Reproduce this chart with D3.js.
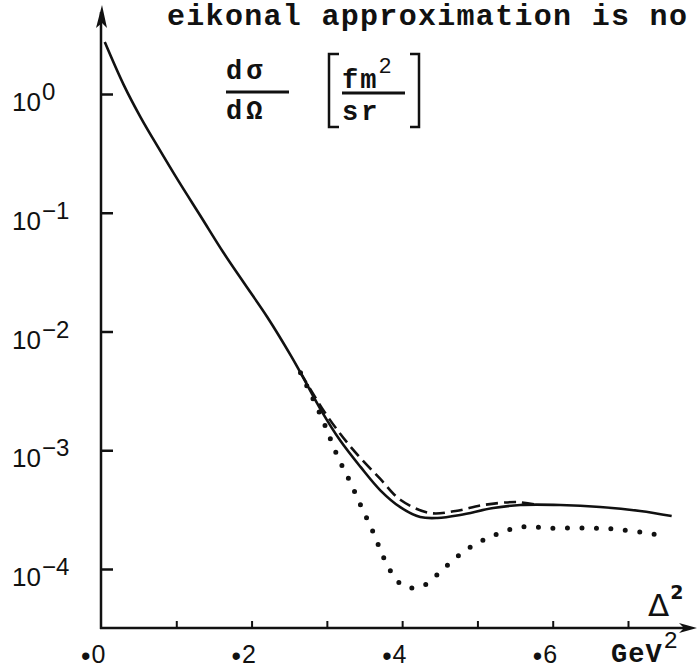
<!DOCTYPE html>
<html><head><meta charset="utf-8">
<script src="https://cdn.jsdelivr.net/npm/d3@7"></script>
<style>html,body{margin:0;padding:0;background:#fff;} svg{display:block;}</style>
</head><body><svg id="c" width="697" height="672"></svg>
<script>
// ---- data ----
const xSolid = [0.005, 0.03, 0.053, 0.076, 0.102, 0.133, 0.163, 0.19, 0.221, 0.252, 0.265, 0.292, 0.318, 0.345, 0.371, 0.398, 0.424, 0.447, 0.477, 0.521, 0.557, 0.61, 0.663, 0.716, 0.758];
const ySolid = [2.74, 1.2, 0.63, 0.355, 0.189, 0.0921, 0.0458, 0.0256, 0.0132, 0.0063, 0.0045, 0.00219, 0.0012, 0.00072, 0.00046, 0.00033, 0.000274, 0.000269, 0.000285, 0.000326, 0.000346, 0.000346, 0.000333, 0.000308, 0.000279];
const xDashed = [0.265, 0.298, 0.331, 0.371, 0.398, 0.437, 0.471, 0.508, 0.553, 0.575];
const yDashed = [0.0045, 0.00205, 0.00108, 0.000573, 0.000381, 0.000296, 0.000308, 0.000346, 0.000366, 0.00035];
const xDotted = [0.265, 0.294, 0.314, 0.331, 0.346, 0.362, 0.377, 0.395, 0.411, 0.43, 0.456, 0.485, 0.52, 0.558, 0.598, 0.642, 0.681, 0.725, 0.745];
const yDotted = [0.0045, 0.00183, 0.000895, 0.00054, 0.000333, 0.000201, 0.000119, 0.0000778, 0.0000692, 0.0000733, 0.000102, 0.000145, 0.00019, 0.000226, 0.000221, 0.000221, 0.000217, 0.000201, 0.00019];
const yTickValues = [1, 0.1, 0.01, 0.001, 0.0001];
const yTickBase = "10";
const yTickExponents = ["0", "\u22121", "\u22122", "\u22123", "\u22124"];
const xTickValues = [0.1, 0.2, 0.3, 0.4, 0.5, 0.6, 0.7];
const xLabelValues = [0, 0.2, 0.4, 0.6];
const xLabelDigits = ["0", "2", "4", "6"];
const titleText = "eikonal approximation is no";
const unitText = "GeV";
const unitExp = "2";
const axisName = "\u0394";
const axisExp = "2";
const ylabelNum = "d\u03c3";
const ylabelDen = "d\u03a9";
const unitNum = "fm";
const unitNumExp = "2";
const unitDen = "sr";

// ---- drawing ----
const svg = d3.select("#c");
const ink = "#111";
const sans = "Liberation Sans, Arial, sans-serif";
const mono = "Liberation Mono, Courier New, monospace";
const x = d3.scaleLinear().domain([0, 0.7]).range([101, 628]);
const y = d3.scaleLog().domain([1e-4, 1]).range([569, 94]);
const x0 = x(0), yBase = 628;

// axes lines
svg.append("line").attr("x1", x0).attr("y1", yBase + 1).attr("x2", x0).attr("y2", 12)
  .attr("stroke", ink).attr("stroke-width", 2.5);
svg.append("path").attr("d", `M${x0 + 1},5 L${x0 - 5},28 L${x0 + 1},23 L${x0 + 6},28 Z`).attr("fill", ink);
svg.append("line").attr("x1", x0 - 1).attr("y1", yBase).attr("x2", 688).attr("y2", yBase)
  .attr("stroke", ink).attr("stroke-width", 2.5);
svg.append("path").attr("d", `M697,${yBase} L679,${yBase - 5} L684,${yBase} L679,${yBase + 5} Z`).attr("fill", ink);

// ticks
const yAx = svg.append("g").attr("transform", `translate(${x0},0)`)
  .call(d3.axisRight(y).tickValues(yTickValues).tickSize(12).tickFormat(""));
yAx.select(".domain").remove();
yAx.selectAll("line").attr("stroke", ink).attr("stroke-width", 2.5);
const xAx = svg.append("g").attr("transform", `translate(0,${yBase})`)
  .call(d3.axisTop(x).tickValues(xTickValues).tickSize(7).tickFormat(""));
xAx.select(".domain").remove();
xAx.selectAll("line").attr("stroke", ink).attr("stroke-width", 2);

// y labels
yTickValues.forEach((v, i) => {
  const t = svg.append("text").attr("x", 12).attr("y", y(v) + 17)
    .attr("font-family", sans).attr("font-size", 26).attr("fill", ink);
  t.append("tspan").text(yTickBase);
  t.append("tspan").attr("dx", 1).attr("dy", -11).attr("font-size", 24).text(yTickExponents[i]);
});

// x labels
xLabelValues.forEach((v, i) => {
  const t = svg.append("text").attr("x", x(v) - 20).attr("y", 663)
    .attr("font-family", sans).attr("font-size", 25).attr("fill", ink);
  t.append("tspan").attr("dy", 2).attr("font-size", 27).text("\u2022");
  t.append("tspan").attr("dx", 1).attr("dy", -2).text(xLabelDigits[i]);
});

// GeV^2
const gt = svg.append("text").attr("x", 611).attr("y", 662)
  .attr("font-family", mono).attr("font-size", 27).attr("font-weight", "bold")
  .attr("letter-spacing", 1).attr("fill", ink);
gt.append("tspan").text(unitText);
gt.append("tspan").attr("dx", 1).attr("dy", -14).attr("font-size", 24).attr("font-weight", "normal").text(unitExp);

// Delta^2
const dt = svg.append("text").attr("x", 648).attr("y", 616)
  .attr("font-family", "DejaVu Sans, sans-serif").attr("font-size", 31).attr("fill", ink);
dt.append("tspan").text(axisName);
dt.append("tspan").attr("dx", 1).attr("dy", -17).attr("font-size", 19).attr("font-weight", "bold").text(axisExp);

// title line of the page (runs up to the right edge)
svg.append("text").attr("x", 167).attr("y", 25)
  .attr("font-family", mono).attr("font-size", 30).attr("letter-spacing", 1.3)
  .attr("font-weight", "bold").attr("fill", ink).text(titleText);

// y quantity label
svg.append("text").attr("x", 226).attr("y", 79).attr("font-family", mono).attr("font-size", 27)
  .attr("font-weight", "bold").attr("letter-spacing", 4).attr("fill", ink).text(ylabelNum);
svg.append("line").attr("x1", 226).attr("x2", 289).attr("y1", 92).attr("y2", 92).attr("stroke", ink).attr("stroke-width", 3);
svg.append("text").attr("x", 226).attr("y", 119).attr("font-family", mono).attr("font-size", 27)
  .attr("font-weight", "bold").attr("letter-spacing", 4).attr("fill", ink).text(ylabelDen);
// brackets
svg.append("path").attr("d", "M339,54 L329,54 L329,127 L339,127").attr("fill", "none").attr("stroke", ink).attr("stroke-width", 2.5);
svg.append("path").attr("d", "M410,54 L419,54 L419,127 L410,127").attr("fill", "none").attr("stroke", ink).attr("stroke-width", 2.5);
const un = svg.append("text").attr("x", 342).attr("y", 88).attr("font-family", mono).attr("font-size", 27)
  .attr("font-weight", "bold").attr("letter-spacing", 2).attr("fill", ink);
un.append("tspan").text(unitNum);
un.append("tspan").attr("dy", -15).attr("font-size", 22).attr("font-weight", "normal").text(unitNumExp);
svg.append("line").attr("x1", 342).attr("x2", 405).attr("y1", 93).attr("y2", 93).attr("stroke", ink).attr("stroke-width", 3);
svg.append("text").attr("x", 342).attr("y", 120).attr("font-family", mono).attr("font-size", 27)
  .attr("font-weight", "bold").attr("letter-spacing", 3).attr("fill", ink).text(unitDen);

// curves
const line = d3.line().x(d => x(d[0])).y(d => y(d[1])).curve(d3.curveCatmullRom.alpha(0.5));
const solid = d3.zip(xSolid, ySolid), dashed = d3.zip(xDashed, yDashed), dotted = d3.zip(xDotted, yDotted);
svg.append("path").attr("d", line(dotted)).attr("fill", "none").attr("stroke", ink)
  .attr("stroke-width", 5).attr("stroke-linecap", "round").attr("stroke-dasharray", "0 14.5");
svg.append("path").attr("d", line(dashed)).attr("fill", "none").attr("stroke", ink)
  .attr("stroke-width", 2.6).attr("stroke-dasharray", "12 6");
svg.append("path").attr("d", line(solid)).attr("fill", "none").attr("stroke", ink)
  .attr("stroke-width", 2.6);
</script></body></html>
